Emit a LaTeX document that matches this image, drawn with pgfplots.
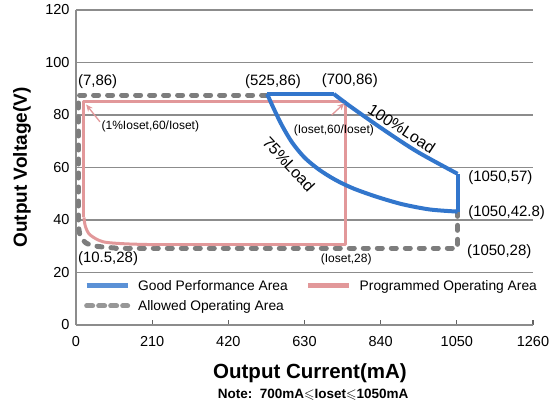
\documentclass[border=0pt]{standalone}
\usepackage{pgfplots}
\pgfplotsset{compat=1.18}
\usepackage{fontspec}
\usepackage{amssymb}
\usetikzlibrary{arrows.meta}
\setmainfont{Liberation Sans}

\definecolor{goodblue}{RGB}{50,118,204}
\definecolor{progpink}{RGB}{226,152,154}
\definecolor{allowgray}{RGB}{125,125,125}
\definecolor{gridgray}{RGB}{140,140,140}

\tikzset{
  pt/.style={inner sep=0pt, font=\fontsize{15}{17}\selectfont},
  small/.style={inner sep=0pt, font=\fontsize{12}{14}\selectfont},
  load/.style={inner sep=0pt, font=\fontsize{16}{18}\selectfont},
}

\begin{document}
\begin{tikzpicture}
\begin{axis}[
  name=ax,
  width=457pt, height=315pt, scale only axis,
  xmin=0, xmax=1260, ymin=0, ymax=120,
  xtick={0,210,420,630,840,1050,1260},
  ytick={0,20,40,60,80,100,120},
  axis x line*=bottom, axis y line*=left,
  axis line style={gridgray, line width=2pt, -},
  ymajorgrids, grid style={gridgray, line width=1.8pt},
  xtick align=inside,
  major tick length=5pt,
  xtick style={gridgray!70!black, line width=1.2pt},
  ytick style={draw=none},
  tick label style={font=\fontsize{14.5}{16}\selectfont},
  /pgf/number format/assume math mode=true,
  /pgf/number format/1000 sep={},
  xticklabel style={yshift=-8pt},
  yticklabel style={xshift=-3pt},
  xlabel={Output Current(mA)},
  ylabel={Output Voltage(V)},
  xlabel style={font=\bfseries\fontsize{20.5}{23}\selectfont, at={(axis description cs:0.512,-0.152)}, anchor=center},
  ylabel style={font=\bfseries\fontsize{19}{22}\selectfont, at={(axis description cs:-0.118,0.5)}, anchor=center},
  clip=false,
  legend columns=2,
  legend style={draw=none, fill=none, at={(axis cs:13.7,18.7)}, anchor=north west,
    font=\fontsize{13.8}{15}\selectfont, row sep=4.5pt,
    /tikz/every odd column/.append style={column sep=6pt},
    /tikz/every even column/.append style={column sep=16pt}},
  legend cell align=left,
  legend image code/.code={\draw[#1] (0pt,0pt) -- (41pt,0pt);},
]

% allowed operating area (dashed)
\addplot[allowgray, line width=5pt, line cap=round, dash pattern=on 5pt off 9pt, forget plot]
  coordinates {(1052,43.3) (1052,29.3) (110,29.3)};
\addplot[allowgray, line width=5pt, line cap=round, dash pattern=on 5pt off 9pt, smooth, forget plot]
  coordinates {(110,29.3) (57,30.0) (28,31.2) (13,33.5) (8,36.5) (7,40)};
\addplot[allowgray, line width=5pt, line cap=round, dash pattern=on 5pt off 9pt, forget plot]
  coordinates {(7,40) (7,87.6) (527,87.6)};

% programmed operating area
\addplot[progpink, line width=3pt, line join=round, forget plot]
  coordinates {(22,41) (22,85) (743,85) (743,30.6) (220,30.6)};
\addplot[progpink, line width=3pt, smooth, forget plot]
  coordinates {(220,30.6) (140,30.9) (75,31.7) (39,34.3) (26,37.5) (22,41)};

% good performance area
\addplot[goodblue, line width=4pt, line join=round, forget plot]
  coordinates {(527,88) (711,88)};
\addplot[goodblue, line width=4pt, smooth, forget plot]
  coordinates {(711,88) (757,83.2) (849,74.3) (941,66) (1052,57.6)};
\addplot[goodblue, line width=4pt, forget plot]
  coordinates {(1052,57.6) (1052,43.2)};
\addplot[goodblue, line width=4pt, smooth, forget plot]
  coordinates {(527,88) (545,82.5) (568,76) (596,69.5) (630,63.8) (670,59.2) (715,55.3)
               (765,52) (830,48.8) (900,46) (976,44) (1052,43.2)};

\addlegendimage{goodblue!80, line width=5pt}
\addlegendentry{Good Performance Area}
\addlegendimage{progpink, line width=5pt}
\addlegendentry{Programmed Operating Area}
\addlegendimage{allowgray!80, line width=5pt, line cap=round, dash pattern=on 6pt off 6pt}
\addlegendentry{Allowed Operating Area}

% arrows
\draw[progpink, line width=1.3pt, -{Stealth[length=7pt,width=6pt]}] (axis cs:66,77.4) -- (axis cs:28,84);
\draw[progpink, line width=1.3pt, -{Stealth[length=7pt,width=6pt]}] (axis cs:705,80) -- (axis cs:740,84.5);

% annotations
\node[pt, anchor=west] at (axis cs:5,92.6) {(7,86)};
\node[pt] at (axis cs:543,92.6) {(525,86)};
\node[pt] at (axis cs:755,93) {(700,86)};
\node[pt, anchor=west] at (axis cs:1081,56) {(1050,57)};
\node[pt, anchor=west] at (axis cs:1081,42.7) {(1050,42.8)};
\node[pt, anchor=west] at (axis cs:1078,27.8) {(1050,28)};
\node[pt, anchor=west] at (axis cs:5,25.1) {(10.5,28)};
\node[load, rotate=-33] at (axis cs:898,74.9) {100\%Load};
\node[load, rotate=-47] at (axis cs:587,61.3) {75\%Load};
\node[small] at (axis cs:745,25.1) {(Ioset,28)};
\node[small] at (axis cs:205,75.5) {(1\%Ioset,60/Ioset)};
\node[small] at (axis cs:711,74.3) {(Ioset,60/Ioset)};

\node[inner sep=0pt, font=\bfseries\fontsize{13.5}{15}\selectfont] at (axis description cs:0.519,-0.222)
  {Note:\ \ 700mA$\leqslant$Ioset$\leqslant$1050mA};
\end{axis}
\pgfresetboundingbox
\path[use as bounding box] ([shift={(-76pt,-83pt)}]ax.south west) rectangle ([shift={(17pt,10pt)}]ax.north east);
\end{tikzpicture}
\end{document}
